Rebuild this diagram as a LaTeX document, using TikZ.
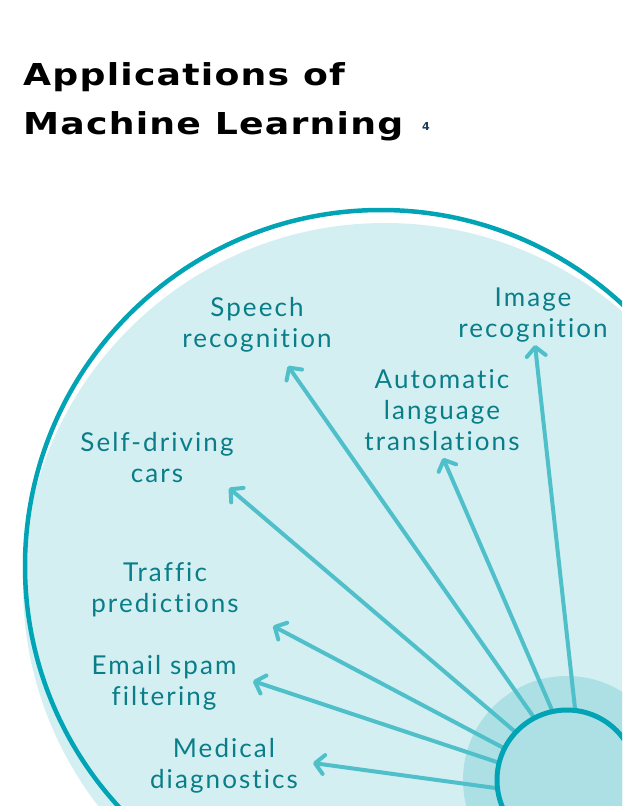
\documentclass[tikz,border=0pt]{standalone}
\usepackage{fontspec}
\setmainfont{Lato}
\newfontfamily\labelfont{Lato}[LetterSpace=8, Ligatures=NoCommon]
\newfontfamily\titlefont{DejaVu Sans}[LetterSpace=4, FakeStretch=1.2, Ligatures=NoCommon]
\newfontfamily\reffont{DejaVu Sans}
\usetikzlibrary{arrows.meta}
\definecolor{bigfill}{HTML}{D3EFF2}
\definecolor{outl}{HTML}{00A4B4}
\definecolor{halo}{HTML}{ADE0E5}
\definecolor{arrc}{HTML}{4FC0CA}
\definecolor{txt}{HTML}{0A7E88}
\definecolor{navy}{HTML}{1B3A5C}
\tikzset{
  lbl/.style={text=txt, font=\labelfont\fontsize{26}{30.8}\selectfont, align=center, inner sep=0pt, anchor=base},
  arr/.style={draw=arrc, line width=4pt, line cap=round, -{Straight Barb[length=9pt,width=19pt,round]}},
  hubnode/.style={circle, draw=outl, fill=halo, line width=5pt, minimum size=140pt, inner sep=0pt},
}
\begin{document}
\begin{tikzpicture}[x=1pt,y=-1pt]
\useasboundingbox (0,0) rectangle (622,806);
\fill[white] (0,0) rectangle (622,806);
\begin{scope}
\clip (0,0) rectangle (622,806);
\fill[bigfill] (385,585) circle[radius=362];
\draw[outl, line width=4.5pt] (381,566) circle[radius=356];
\fill[halo] (567,780) circle[radius=104];
% start points (inside hub) and tips
\coordinate (s1) at (576.6,723); \coordinate (t1) at (535,345);
\coordinate (s2) at (558,724);   \coordinate (t2) at (443,458);
\coordinate (s3) at (540.6,727); \coordinate (t3) at (288,366);
\coordinate (s4) at (524.4,739.7); \coordinate (t4) at (229,488);
\coordinate (s5) at (515,754);   \coordinate (t5) at (273,626);
\coordinate (s6) at (511,766.7); \coordinate (t6) at (253,681);
\coordinate (s7) at (510,790);   \coordinate (t7) at (313,763);
\foreach \i in {1,...,7} {\draw[arr] (s\i) -- (t\i);}
\node[hubnode] (hub) at (567,780) {};
\end{scope}
% title
\node[anchor=base west, inner sep=0pt, align=left, font=\titlefont\bfseries\fontsize{30.2}{49}\selectfont] (title) at (23,134) {Applications of\\Machine Learning};
\node[anchor=base west, inner sep=0pt, text=navy, font=\reffont\bfseries\fontsize{11}{12}\selectfont] (ref) at (422,130) {4};
% labels
\node[lbl] (speech) at (257,347) {Speech\\recognition};
\node[lbl] (image) at (533,337) {Image\\recognition};
\node[lbl] (auto) at (442,450) {Automatic\\language\\translations};
\node[lbl] (self) at (157,482) {Self-driving\\cars};
\node[lbl] (traffic) at (165,612) {Traffic\\predictions};
\node[lbl] (email) at (164,705) {Email spam\\filtering};
\node[lbl] (medical) at (224,788) {Medical\\diagnostics};
\end{tikzpicture}
\end{document}
